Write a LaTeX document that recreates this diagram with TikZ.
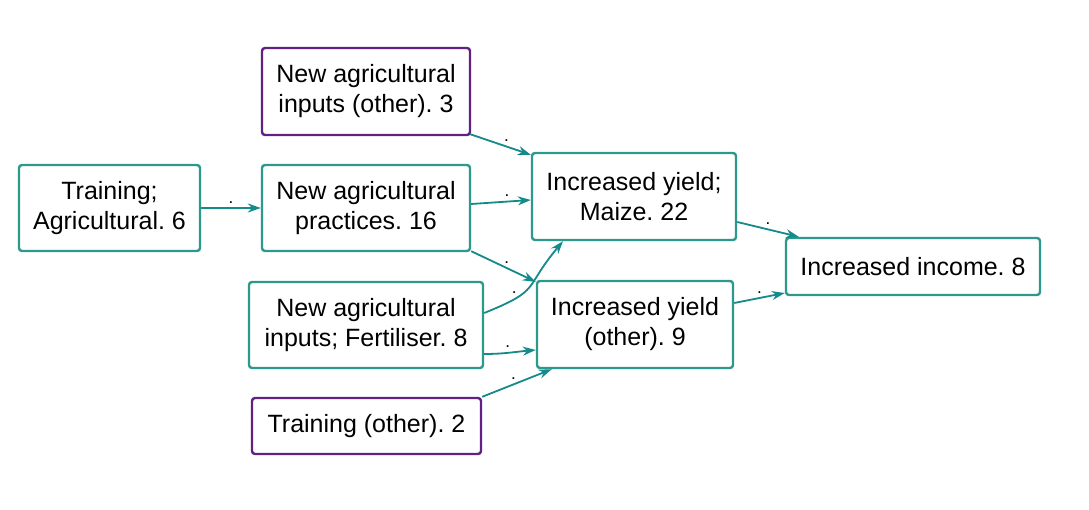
\documentclass[tikz,border=0pt]{standalone}
\usepackage{tikz}
\usetikzlibrary{arrows.meta,positioning,calc}
\usepackage{fontspec}
\setmainfont{Liberation Sans}
\frenchspacing
\definecolor{boxteal}{RGB}{45,152,140}
\definecolor{edgeteal}{RGB}{20,138,138}
\definecolor{otherpurple}{RGB}{96,32,132}

\begin{document}
\begin{tikzpicture}[
        x=1pt, y=-1pt,
        factor/.style={rectangle, rounded corners=3pt, draw=boxteal, line width=2.4pt, fill=white, align=center, inner sep=0pt, font=\fontsize{25}{30}\selectfont},
        otherfactor/.style={factor, draw=otherpurple},
        arrow/.style={-{Stealth[length=13pt,width=9pt]}, draw=edgeteal, line width=1.8pt},
        dot/.style={midway, above=3pt, inner sep=1pt, font=\fontsize{17}{17}\selectfont}
    ]
        \useasboundingbox (0,0) rectangle (1089,510);

        \node[otherfactor, minimum width=208pt, minimum height=87pt] (inputsother) at (366,91.5) {New agricultural\\inputs (other). 3};
        \node[factor, minimum width=181pt, minimum height=86pt] (trainagri) at (109.5,208) {Training;\\Agricultural. 6};
        \node[factor, minimum width=208pt, minimum height=86pt] (practices) at (366,208) {New agricultural\\practices. 16};
        \node[factor, minimum width=234pt, minimum height=86pt] (fertiliser) at (366,325) {New agricultural\\inputs; Fertiliser. 8};
        \node[otherfactor, minimum width=229pt, minimum height=56pt] (trainother) at (366.5,426) {Training (other). 2};
        \node[factor, minimum width=204pt, minimum height=87pt] (yieldmaize) at (634,196.5) {Increased yield;\\Maize. 22};
        \node[factor, minimum width=196pt, minimum height=87pt] (yieldother) at (635,324.5) {Increased yield\\(other). 9};
        \node[factor, minimum width=254pt, minimum height=57pt] (income) at (913,266.5) {Increased income. 8};

        \draw[arrow] (trainagri.east) -- node[dot] {.} (practices.west);
        \draw[arrow] ([shift={(-1pt,2pt)}]inputsother.south east) -- node[dot, pos=0.6] {.} ([yshift=-3pt]yieldmaize.north west);
        \draw[arrow] ([yshift=4pt]practices.east) -- node[dot, pos=0.6] {.} ([yshift=-3.5pt]yieldmaize.west);
        \draw[arrow] ([yshift=1pt]practices.south east) -- node[dot, pos=0.55] {.} ([yshift=-2pt]yieldother.north west);
        \draw[arrow] ([yshift=12pt]fertiliser.east) to[out=22, in=-130, looseness=1.5] node[dot, pos=0.3, above left=1pt] {.} ([xshift=-71pt]yieldmaize.south);
        \draw[arrow] ([yshift=-29pt]fertiliser.east) to[out=0, in=185] node[dot, pos=0.45] {.} ([yshift=-25.5pt]yieldother.west);
        \draw[arrow] (trainother.north east) -- node[dot, pos=0.45] {.} ([xshift=16pt]yieldother.south west);
        \draw[arrow] ([yshift=-25.5pt]yieldmaize.east) -- node[dot] {.} ([xshift=14pt]income.north west);
        \draw[arrow] ([yshift=21.5pt]yieldother.east) -- node[dot] {.} ([yshift=-26.5pt]income.west);

    \end{tikzpicture}
\end{document}
